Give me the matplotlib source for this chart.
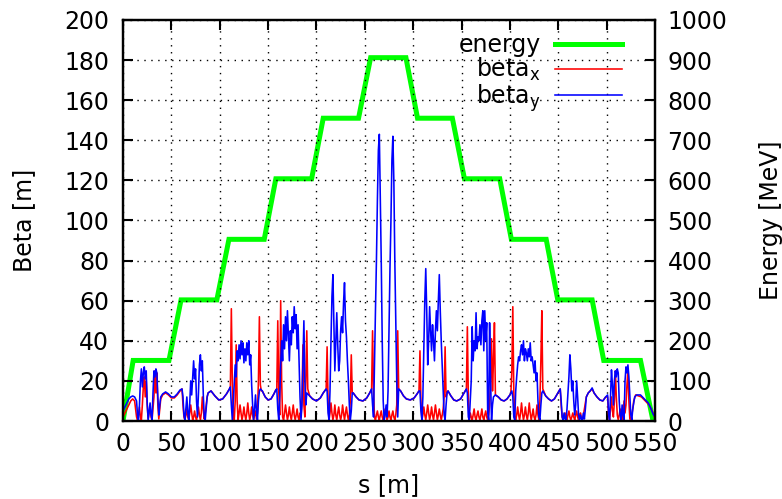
import matplotlib
matplotlib.use('Agg')
import matplotlib.pyplot as plt

# energy profile (right axis, MeV)
s_energy = [0, 10.5, 47.5, 60, 97, 109.5, 146, 158, 195, 207, 243.5, 256, 292.5, 304.5,
            340.5, 353, 389.5, 401.5, 437.5, 449.5, 485, 497, 535, 548]
energy = [0, 151, 151, 302, 302, 453, 453, 604, 604, 755, 755, 906, 906, 755,
          755, 604, 604, 453, 453, 302, 302, 151, 151, 0]

# beta_x (red)
s_betax = [0, 2, 4, 6, 8, 10, 12, 13, 14, 15, 16, 17, 18, 19, 20, 21, 22, 23, 24, 25, 26, 27, 28, 29, 30,
           31, 32, 33, 34, 35, 36, 37, 38, 39, 41,
           44, 47, 50, 53, 56, 59, 61,
           62, 63, 64, 65, 66, 67, 68, 69, 70, 71, 72, 73, 74, 75, 76, 77, 78, 79, 80, 81, 82, 83, 84, 85,
           86, 87, 88,
           91, 95, 99, 103, 107, 110,
           111, 112, 113, 114, 115, 116, 117, 118, 119, 120, 121, 122, 123, 124, 125, 126, 127, 128, 129,
           130, 131, 132, 133, 134, 135, 136, 137, 138, 139, 140, 141, 142, 143,
           144, 147, 150, 153, 156, 158,
           159, 160, 161, 162, 163, 164, 165, 166, 167, 168, 169, 170, 171, 172, 173, 174, 175, 176, 177,
           178, 179, 180, 181, 182, 183, 184, 185, 186, 187, 188, 189, 190, 191,
           193, 196, 200, 204, 207, 210,
           211, 212, 213, 214, 215, 216, 217, 218, 219, 220, 221, 222, 223, 224, 225, 226, 227, 228, 229,
           230, 231, 232, 233, 234, 235, 236, 237,
           238, 241, 244, 248, 252, 255, 257,
           258, 259, 260, 261, 262, 263, 264, 265, 266, 267, 268, 269, 270, 271, 272, 273, 274, 275, 276,
           277, 278, 279, 280, 281, 282, 283, 284, 285,
           287, 290, 293, 297, 301, 304, 306,
           307, 308, 309, 310, 311, 312, 313, 314, 315, 316, 317, 318, 319, 320, 321, 322, 323, 324, 325,
           326, 327, 328, 329, 330, 331, 332, 333, 334, 335,
           336, 339, 342, 345, 349, 352, 355,
           356, 357, 358, 359, 360, 361, 362, 363, 364, 365, 366, 367, 368, 369, 370, 371, 372, 373, 374,
           375, 376, 377, 378, 379, 380, 381, 382, 383, 384, 385,
           388, 391, 394, 397, 400, 401, 402,
           403, 404, 405, 406, 407, 408, 409, 410, 411, 412, 413, 414, 415, 416, 417, 418, 419, 420, 421,
           422, 423, 424, 425, 426, 427, 428, 429, 430, 431, 432, 433, 434,
           437, 440, 443, 446, 449, 452,
           453, 454, 455, 456, 457, 458, 459, 460, 461, 462, 463, 464, 465, 466, 467, 468, 469, 470, 471,
           472, 473, 474, 475, 476, 477, 478, 479, 481, 483, 485,
           487, 490, 493, 496, 499, 501,
           502, 503, 504, 505, 506, 507, 508, 509, 510, 511, 512, 513, 514, 515, 516, 517, 518, 519, 520,
           521, 522, 523, 524, 525, 526, 527, 528, 530,
           533, 536, 540, 544, 547, 550]
betax = [2, 4, 6, 8, 10, 11, 10, 6, 2, 0.5, 3, 7, 2, 0.5, 8, 17, 22, 12, 20, 8, 1, 4, 7, 2, 0.5,
         6, 12, 25, 14, 24, 8, 1, 6, 11, 13,
         14, 13, 11.5, 11.5, 13, 15, 16,
         8, 2, 0.5, 3, 6, 2, 0.5, 4, 8, 4, 0.5, 2, 5, 2, 0.5, 3, 7, 3, 0.5, 4, 12, 6, 1, 4,
         8, 12, 14,
         15, 12.5, 10.5, 11, 13.5, 16,
         17, 56, 20, 2, 0.5, 10, 38, 10, 0.5, 4, 8, 4, 0.5, 3, 7, 3, 0.5, 4, 9,
         4, 0.5, 3, 7, 3, 0.5, 3, 5, 1, 4, 20, 52, 18, 15,
         15, 12, 10.5, 11, 13.5, 15.5,
         16, 50, 15, 3, 60, 20, 2, 0.5, 4, 8, 4, 0.5, 3, 7, 3, 0.5, 4, 8, 3,
         0.5, 3, 6, 2, 0.5, 4, 2, 10, 38, 8, 2, 20, 45, 16,
         12.5, 11, 10, 11.5, 14, 16,
         37, 10, 0.5, 4, 9, 4, 0.5, 3, 8, 3, 0.5, 4, 7, 3, 0.5, 3, 8, 4, 0.5,
         4, 7, 3, 0.5, 3, 10, 33, 14,
         14, 12, 10.5, 10, 11.5, 14, 16,
         45, 15, 2, 0.5, 3, 5, 2, 0.5, 3, 5, 2, 0.5, 3, 6, 3, 0.5, 2, 5, 2,
         0.5, 3, 5, 2, 0.5, 3, 8, 45, 16,
         15, 12.5, 11, 10.5, 11.5, 13.5, 15,
         35, 10, 0.5, 3, 7, 3, 0.5, 4, 8, 4, 0.5, 3, 7, 3, 0.5, 4, 8, 4, 0.5,
         3, 6, 3, 0.5, 3, 6, 12, 37, 12, 14,
         15, 12.5, 10.5, 10, 11, 13.5, 16,
         47, 12, 0.5, 4, 2, 0.5, 3, 6, 2, 0.5, 3, 5, 2, 0.5, 3, 6, 2, 0.5, 3,
         5, 2, 0.5, 3, 8, 20, 41, 15, 30, 49, 13,
         12, 10.5, 10, 11, 13, 14, 25,
         57, 15, 2, 0.5, 3, 7, 3, 0.5, 4, 9, 4, 0.5, 3, 7, 3, 0.5, 4, 9, 4,
         0.5, 3, 6, 2, 0.5, 3, 8, 3, 0.5, 10, 30, 55, 16,
         12.5, 11, 10, 11, 13.5, 16,
         8, 2, 0.5, 2, 4, 1, 0.5, 3, 5, 2, 0.5, 2, 4, 2, 0.5, 3, 5, 2, 0.5,
         3, 4, 1, 0.5, 3, 6, 9, 12, 14, 15, 16,
         14, 12, 10.5, 10, 12, 12,
         3, 0.5, 6, 12, 5, 2, 10, 25, 12, 3, 0.5, 3, 6, 2, 0.5, 4, 10, 4, 8,
         18, 25, 10, 1, 0.5, 3, 6, 10, 13,
         12.5, 12, 10, 8, 5, 1.5]

# beta_y (blue)
s_betay = [0, 2, 4, 6, 8, 10, 12, 14, 15, 16, 17, 18, 19, 20, 21, 22, 23, 24, 25, 26, 27, 28, 29, 30,
           31, 32, 33, 34, 35, 36, 37, 38, 39, 41,
           44, 47, 50, 53, 56, 59, 61,
           62, 63, 64, 65, 66, 67, 68, 69, 70, 71, 72, 73, 74, 75, 76, 77, 78, 79, 80, 81, 82, 83, 84, 85,
           86, 87, 88,
           91, 95, 99, 103, 107, 110,
           111, 112, 113, 114, 115, 116, 117, 118, 119, 120, 121, 122, 123, 124, 125, 126, 127, 128, 129,
           130, 131, 132, 133, 134, 135, 136, 137, 138, 139, 140, 141, 142,
           144, 147, 150, 153, 156, 158,
           159, 160, 161, 162, 163, 164, 165, 166, 167, 168, 169, 170, 171, 172, 173, 174, 175, 176, 177,
           178, 179, 180, 181, 182, 183, 184, 185, 186, 187, 188, 189, 190,
           193, 196, 200, 204, 207, 210,
           211, 212, 213, 214, 215, 216, 217, 218, 219, 220, 221, 222, 223, 224, 225, 226, 227, 228, 229,
           230, 231, 232, 233, 234, 235, 236, 237,
           238, 241, 244, 248, 252, 255, 257,
           258, 259, 260, 261, 262, 263, 264, 265, 266, 267, 268, 269, 270, 271, 272, 273, 274, 275, 276,
           277, 278, 279, 280, 281, 282, 283, 284,
           285, 287, 290, 293, 297, 301, 304, 306,
           307, 308, 309, 310, 311, 312, 313, 314, 315, 316, 317, 318, 319, 320, 321, 322, 323, 324, 325,
           326, 327, 328, 329, 330, 331, 332, 333, 334, 335,
           336, 339, 342, 345, 349, 352, 355,
           356, 357, 358, 359, 360, 361, 362, 363, 364, 365, 366, 367, 368, 369, 370, 371, 372, 373, 374,
           375, 376, 377, 378, 379, 380, 381, 382, 383, 385,
           388, 391, 394, 397, 400, 402,
           403, 404, 405, 406, 407, 408, 409, 410, 411, 412, 413, 414, 415, 416, 417, 418, 419, 420, 421,
           422, 423, 424, 425, 426, 427, 428, 429, 430, 431, 432, 433,
           434, 437, 440, 443, 446, 449, 452,
           453, 454, 455, 456, 457, 458, 459, 460, 461, 462, 463, 464, 465, 466, 467, 468, 469, 470, 471,
           472, 473, 474, 475, 476, 477, 478, 479, 481, 483, 485,
           487, 490, 493, 496, 499, 501,
           502, 503, 504, 505, 506, 507, 508, 509, 510, 511, 512, 513, 514, 515, 516, 517, 518, 519, 520,
           521, 522, 523, 524, 525, 526, 527, 529, 531,
           535, 539, 543, 546, 548, 550]
betay = [5, 7, 9, 11, 12, 12.5, 12, 10, 3, 0, 8, 20, 26, 17, 24, 27, 21, 25, 9, 0.5, 5, 9, 3, 0.5,
         14, 25, 22, 26, 24, 12, 3, 8, 12, 13.5,
         14.5, 13.5, 12, 12, 13.5, 15.5, 16,
         12, 3, 0.5, 6, 12, 4, 0.5, 9, 20, 13, 22, 30, 21, 26, 10, 2, 14, 28, 33, 25, 30, 13, 2, 0.5,
         6, 12, 14,
         15, 12.5, 10.5, 11, 13.5, 16,
         17, 8, 0.5, 10, 20, 28, 22, 35, 30, 38, 31, 40, 33, 39, 29, 36, 30, 39, 33,
         40, 28, 33, 18, 8, 0.5, 6, 13, 5, 0.5, 10, 15, 16,
         15, 12, 10.5, 11, 13.5, 15.5,
         16, 6, 0.5, 12, 28, 40, 30, 48, 36, 52, 40, 55, 42, 30, 45, 38, 52, 44, 57,
         46, 53, 36, 48, 30, 12, 0.5, 8, 30, 50, 20, 8, 14,
         12.5, 11, 10, 11.5, 14, 16,
         15, 4, 0.5, 15, 40, 62, 73, 50, 25, 40, 54, 38, 25, 30, 45, 52, 44, 59, 69,
         50, 42, 30, 20, 8, 0.5, 5, 14,
         14, 12, 10.5, 10, 11.5, 14, 16,
         8, 2, 30, 55, 80, 110, 135, 143, 110, 79, 40, 10, 0.5, 3, 8, 2, 15, 45, 76,
         100, 130, 142, 120, 80, 50, 20, 2,
         16, 15, 12.5, 11, 10.5, 11.5, 13.5, 15,
         15, 5, 0.5, 12, 35, 60, 76, 55, 28, 40, 57, 45, 35, 48, 40, 30, 45, 55, 45,
         60, 73, 55, 40, 28, 15, 3, 0.5, 8, 14,
         15, 12.5, 10.5, 10, 11, 13.5, 16,
         14, 2, 0.5, 10, 20, 47, 30, 40, 35, 54, 36, 42, 40, 48, 38, 50, 55, 35, 55,
         40, 49, 5, 0.5, 49, 20, 0.5, 8, 12, 13,
         12, 10.5, 10, 11, 13, 15,
         12, 2, 0.5, 15, 22, 28, 32, 30, 35, 38, 33, 40, 30, 36, 34, 30, 36, 32, 39,
         30, 32, 28, 24, 30, 20, 24, 10, 2, 0.5, 8, 14,
         15, 12.5, 11, 10, 11, 13.5, 16,
         10, 2, 0.5, 4, 1, 0.5, 6, 14, 22, 33, 26, 15, 20, 10, 3, 8, 20, 12, 3,
         0.5, 3, 1, 0.5, 4, 1, 6, 12, 14, 15, 16.5,
         14, 12, 10.5, 10, 12, 13,
         4, 0.5, 12, 25.5, 18, 8, 20, 25, 22, 26, 24, 10, 3, 0.5, 8, 3, 0.5, 20, 27,
         24, 28, 22, 12, 3, 0.5, 6, 12, 13,
         13, 11, 9, 6, 3.5, 2]

x_ticks = list(range(0, 551, 50))
beta_ticks = list(range(0, 201, 20))
energy_ticks = list(range(0, 1001, 100))

plt.rcParams['font.family'] = ['DejaVu Sans']
plt.rcParams['mathtext.fontset'] = 'dejavusans'
fs = 17

fig = plt.figure(figsize=(7.82, 4.99), dpi=100)
ax = fig.add_axes([0.1573, 0.1563, 0.6803, 0.8037])
ax2 = ax.twinx()
ax.set_zorder(ax2.get_zorder() + 1)
ax.patch.set_visible(False)

le, = ax2.plot(s_energy, energy, color='#00ff00', lw=3.6, solid_joinstyle='miter')
lx, = ax.plot(s_betax, betax, color='#ff0000', lw=1.15)
ly, = ax.plot(s_betay, betay, color='#0000ff', lw=1.15)

ax.set_xlim(0, 550)
ax.set_ylim(0, 200)
ax2.set_ylim(0, 1000)
ax.set_xticks(x_ticks)
ax.set_yticks(beta_ticks)
ax2.set_yticks(energy_ticks)

ax.tick_params(axis='both', direction='in', length=7, width=1.5, labelsize=fs,
               top=True, right=False)
ax.tick_params(axis='x', pad=8)
ax.tick_params(axis='y', pad=10)
ax2.tick_params(axis='y', direction='in', length=7, width=1.5, labelsize=fs, pad=9)

for a in (ax, ax2):
    for sp in a.spines.values():
        sp.set_linewidth(1.6)

ax.grid(True, color='black', linestyle=(0, (1, 4)), linewidth=1.0)
ax.set_axisbelow(True)

ax.set_xlabel('s [m]', fontsize=fs, labelpad=12)
ax.set_ylabel('Beta [m]', fontsize=fs, labelpad=20)
ax2.set_ylabel('Energy [MeV]', fontsize=fs, labelpad=23)

ax.legend([le, lx, ly], ['energy', r'beta$_\mathrm{x}$', r'beta$_\mathrm{y}$'],
          loc='upper right', bbox_to_anchor=(0.978, 1.02), frameon=False,
          markerfirst=False, handlelength=2.85, fontsize=fs, labelspacing=-0.05,
          handletextpad=0.6)

fig.savefig('out.png', dpi=100)
